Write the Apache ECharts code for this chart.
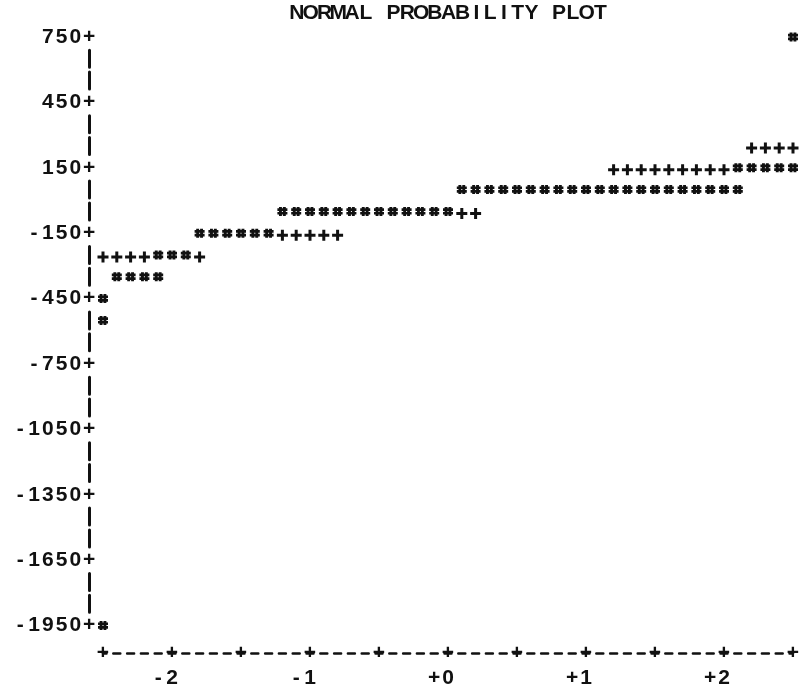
<!DOCTYPE html>
<html>
<head>
<meta charset="utf-8">
<title>Normal probability plot</title>
<script src="https://cdn.jsdelivr.net/npm/echarts@6/dist/echarts.min.js"></script>
<style>
  html, body { margin: 0; padding: 0; background: #ffffff; }
  #chart { width: 811px; height: 692px; }
</style>
</head>
<body>
<div id="chart"></div>
<script>
// Line-printer style normal probability plot.
// '*' = observations, '+' = reference normal line.

const titleText = 'NORMAL PROBABILITY PLOT';

// Vertical scale (data units) and its tick labels
const yMin = -1950;
const yMax = 750;
const yTickValues = [750, 450, 150, -150, -450, -750, -1050, -1350, -1650, -1950];

// Horizontal scale (normal quantiles) and its tick labels
const xMin = -2.5;
const xMax = 2.5;
const xTickValues = [-2, -1, 0, 1, 2];
const xTickLabels = ['-2', '-1', '+0', '+1', '+2'];

// Observations: [normal quantile, value]
const observations = [
  [2.5, 750],
  [2.1, 150], [2.2, 150], [2.3, 150], [2.4, 150], [2.5, 150],
  [0.1, 50], [0.2, 50], [0.3, 50], [0.4, 50], [0.5, 50], [0.6, 50], [0.7, 50],
  [0.8, 50], [0.9, 50], [1.0, 50], [1.1, 50], [1.2, 50], [1.3, 50], [1.4, 50],
  [1.5, 50], [1.6, 50], [1.7, 50], [1.8, 50], [1.9, 50], [2.0, 50], [2.1, 50],
  [-1.2, -50], [-1.1, -50], [-1.0, -50], [-0.9, -50], [-0.8, -50], [-0.7, -50], [-0.6, -50],
  [-0.5, -50], [-0.4, -50], [-0.3, -50], [-0.2, -50], [-0.1, -50], [0.0, -50],
  [-1.8, -150], [-1.7, -150], [-1.6, -150], [-1.5, -150], [-1.4, -150], [-1.3, -150],
  [-2.1, -250], [-2.0, -250], [-1.9, -250],
  [-2.4, -350], [-2.3, -350], [-2.2, -350], [-2.1, -350],
  [-2.5, -450],
  [-2.5, -550],
  [-2.5, -1950]
];

// Reference line cells that are not covered by an observation
const referenceLine = [
  [2.2, 250], [2.3, 250], [2.4, 250], [2.5, 250],
  [1.2, 150], [1.3, 150], [1.4, 150], [1.5, 150], [1.6, 150], [1.7, 150], [1.8, 150], [1.9, 150], [2.0, 150],
  [0.1, -50], [0.2, -50],
  [-1.2, -150], [-1.1, -150], [-1.0, -150], [-0.9, -150], [-0.8, -150],
  [-2.5, -250], [-2.4, -250], [-2.3, -250], [-2.2, -250], [-1.8, -250]
];

// ---- printer look ----
const FONT = '"Liberation Sans", Arial, "DejaVu Sans", sans-serif';
const INK = '#111111';
const PITCH = 13.8;          // printer column width in px
const ROW = 21.8;            // printer row height in px
const BAR = 17;              // length of one '|' on the vertical axis
const BAR_GAP = 4.8;
const GRID = { left: 103, right: 18, top: 37, bottom: 66.4 };

const charStyle = {
  width: PITCH, align: 'center', fontSize: 21, fontWeight: 'bold',
  fontFamily: FONT, color: INK, lineHeight: 22
};

// Lay out a string one character per printer column
function mono(str) {
  return str.split('').map(function (ch) {
    return '{c|' + (ch === ' ' ? '\u00a0' : ch) + '}';
  }).join('');
}

const STAR = 'path://M1.6,0H4.5V9H1.6Z M5.5,0H8.4V9H5.5Z M0,1.3H10V4H0Z M0,5H10V7.7H0Z';
const PLUS = 'path://M4,0H7V11H4Z M0,4H11V7H0Z';

const chart = echarts.init(document.getElementById('chart'), null, { renderer: 'canvas' });

chart.setOption({
  animation: false,
  backgroundColor: '#ffffff',
  title: {
    text: mono(titleText),
    left: 290,
    top: 2,
    padding: 0,
    textStyle: { rich: { c: charStyle } }
  },
  grid: Object.assign({ containLabel: false }, GRID),
  xAxis: [
    {
      // dashed printer axis with '+' every half unit
      type: 'value', min: xMin, max: xMax, interval: 0.5,
      position: 'bottom', offset: 27.4,
      splitLine: { show: false },
      axisTick: { show: false },
      axisLine: {
        show: true, onZero: false,
        lineStyle: { color: INK, width: 2.5, type: [7, 6.8], dashOffset: 3.5 }
      },
      axisLabel: {
        show: true, interval: 0, margin: 0, verticalAlign: 'middle',
        formatter: function () { return '{c|+}'; },
        rich: { c: charStyle }
      }
    },
    {
      // numeric quantile labels
      type: 'value', min: xMin, max: xMax,
      position: 'bottom', offset: 27.4,
      splitLine: { show: false },
      axisTick: { show: false },
      axisLine: { show: false, onZero: false },
      axisLabel: {
        show: true, margin: 25, verticalAlign: 'middle',
        customValues: xTickValues,
        formatter: function (v) {
          for (let i = 0; i < xTickValues.length; i++) {
            if (Math.abs(xTickValues[i] - v) < 1e-9) return mono(xTickLabels[i] + ' ');
          }
          return '';
        },
        rich: { c: charStyle }
      }
    }
  ],
  yAxis: {
    type: 'value', min: yMin, max: yMax,
    position: 'left', offset: PITCH,
    splitLine: { show: false },
    axisTick: { show: false },
    axisLine: {
      show: true, onZero: false,
      // '|' on the two rows between each '+' tick row
      lineStyle: {
        color: INK, width: 3,
        type: [BAR, BAR_GAP, BAR, ROW * 3 - BAR * 2 - BAR_GAP],
        dashOffset: BAR + BAR_GAP + BAR + (ROW - BAR / 2)
      }
    },
    axisLabel: {
      show: true, margin: -PITCH / 2, verticalAlign: 'middle',
      customValues: yTickValues,
      formatter: function (v) { return mono(String(v) + '+'); },
      rich: { c: charStyle }
    }
  },
  series: [
    {
      name: 'observations', type: 'scatter', xAxisIndex: 0,
      data: observations,
      symbol: STAR, symbolSize: [10, 9],
      itemStyle: { color: INK, opacity: 1 },
      silent: true
    },
    {
      name: 'reference', type: 'scatter', xAxisIndex: 0,
      data: referenceLine,
      symbol: PLUS, symbolSize: [11, 11], symbolOffset: [0, 2],
      itemStyle: { color: INK, opacity: 1 },
      silent: true
    }
  ]
});
</script>
</body>
</html>
